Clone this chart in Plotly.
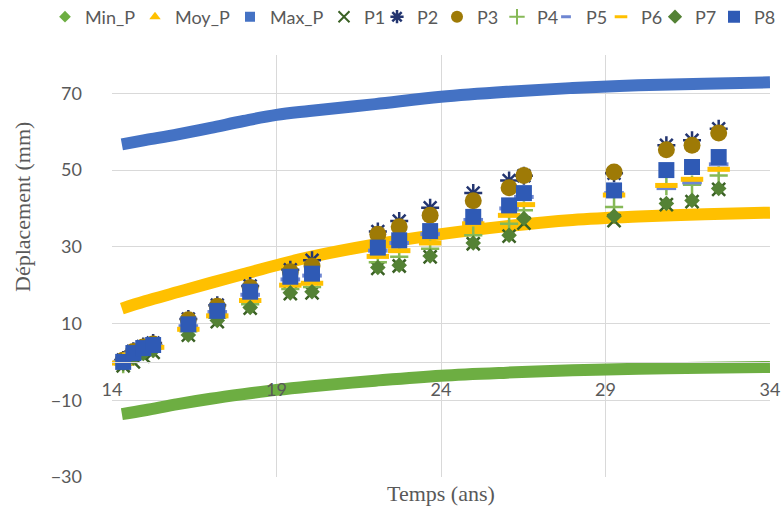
import plotly.graph_objects as go

# ---- envelope curves ----
curve_t = [14.3, 15, 16, 17, 18, 19, 20, 22, 24, 26, 28, 30, 32, 34]
min_p = [-13.6, -12.6, -11.0, -9.6, -8.4, -7.3, -6.4, -4.9, -3.6, -2.8, -2.2, -1.8, -1.5, -1.3]
moy_p = [13.9, 15.8, 18.2, 20.6, 22.9, 25.2, 27.3, 30.6, 33.3, 35.4, 37.0, 37.9, 38.5, 38.9]
max_p = [56.7, 57.8, 59.3, 61.0, 62.8, 64.4, 65.4, 67.2, 69.1, 70.4, 71.4, 72.1, 72.5, 72.9]

# ---- measurement points ----
t = [14.34, 14.65, 14.95, 15.25, 16.32, 17.2, 18.2, 19.42, 20.08, 22.08, 22.73,
     23.67, 24.98, 26.07, 26.52, 29.26, 30.85, 31.63, 32.44]
p1 = [-1.0, 0.0, 1.5, 2.5, 7.0, 10.5, 14.0, 17.8, 18.0, 24.4, 25.0, 27.4, 30.8, 32.8, 36.2, 36.8, 41.0, 41.8, 45.0]
p2 = [0.5, 2.8, 4.0, 4.9, 11.2, 14.8, 19.8, 24.0, 26.5, 34.0, 36.7, 40.2, 44.0, 47.3, 48.5, 49.2, 56.5, 57.8, 60.8]
p3 = [0.4, 2.7, 3.9, 4.7, 11.0, 14.5, 19.4, 23.5, 25.0, 33.3, 35.2, 38.2, 42.0, 45.4, 48.6, 49.5, 55.3, 56.5, 59.7]
p4 = [-0.6, 1.4, 2.8, 3.5, 8.0, 11.5, 15.0, 19.0, 19.5, 26.0, 27.4, 29.5, 33.0, 36.0, 39.5, 40.4, 45.8, 46.2, 48.6]
p5 = [0.0, 2.0, 3.3, 4.1, 9.3, 13.0, 17.5, 21.5, 22.5, 29.0, 31.0, 33.3, 37.0, 40.0, 43.0, 44.0, 45.3, 46.8, 51.5]
p6 = [-0.3, 1.8, 3.0, 3.8, 8.5, 12.0, 16.0, 20.0, 20.5, 27.5, 29.0, 31.0, 36.0, 38.2, 41.0, 43.5, 46.0, 47.6, 50.2]
p7 = [-0.5, 1.0, 2.2, 3.0, 7.0, 10.8, 14.2, 18.0, 18.3, 24.6, 25.2, 27.6, 31.0, 33.0, 37.4, 38.0, 41.3, 42.1, 45.2]
p8 = [0.0, 2.3, 3.6, 4.4, 9.8, 13.3, 18.3, 22.2, 23.0, 29.8, 31.7, 34.1, 37.8, 40.8, 44.0, 44.7, 50.0, 50.8, 53.4]

x_ticks = [14, 19, 24, 29, 34]
y_ticks = [-30, -10, 10, 30, 50, 70]
x_range = [14, 34]
y_range = [-30, 80]

GRID = "#D9D9D9"
TXT = "#595959"
SANS = "Lato, 'Open Sans', sans-serif"
SERIF = "'Liberation Serif', 'DejaVu Serif', serif"

W, H = 781, 507
ML, MR, MT, MB = 112, 11, 55, 30
PW, PH = W - ML - MR, H - MT - MB

fig = go.Figure()

curves = [
    ("Min_P", min_p, "#6DAE42", "diamond", 9),
    ("Moy_P", moy_p, "#FFC000", "triangle-up", 10),
    ("Max_P", max_p, "#4472C4", "square", 10),
]
for name, vals, col, sym, lsz in curves:
    fig.add_trace(go.Scatter(x=curve_t, y=vals, mode="lines", name=name,
                             line=dict(color=col, width=12, shape="spline"),
                             legendgroup=name, showlegend=False))

points = [
    ("P1", p1, "#3B6125", "x-thin-open", 13, 2.5, 11, 2),
    ("P2", p2, "#233570", "asterisk-open", 15, 2.5, 11, 2.5),
    ("P3", p3, "#9E7A06", "circle", 17, 0, 12, 0),
    ("P4", p4, "#86B957", "cross-thin-open", 13, 2.5, 11, 2),
    ("P5", p5, "#6E86D2", "line-ew-open", 14, 4, 7, 3),
    ("P6", p6, "#FFC000", "line-ew-open", 16, 5, 9, 3),
    ("P7", p7, "#548235", "diamond", 12, 0, 11, 0),
    ("P8", p8, "#2F5AB5", "square", 16, 0, 12, 0),
]
for name, vals, col, sym, sz, lw, lsz, llw in points:
    mk = dict(symbol=sym, size=sz, color=col)
    if lw:
        mk["line"] = dict(color=col, width=lw)
    fig.add_trace(go.Scatter(x=t, y=vals, mode="markers", name=name, marker=mk,
                             legendgroup=name, showlegend=False))

# legend-only entries (legend symbol sizes as in the reference);
# split over two legend boxes so the row fits the figure width
legend_widths = [45, 50, 49, 8, 15, 15, 23, 10, 9, 14, 22]
legend_ids = ["legend"] * 7 + ["legend2"] * 4
entries = [(c[0], c[2], c[3], c[4], 0) for c in curves] + \
          [(p[0], p[2], p[3], p[6], p[7]) for p in points]
for (name, col, sym, lsz, llw), lwid, lid in zip(entries, legend_widths, legend_ids):
    mk = dict(symbol=sym, size=lsz, color=col)
    if llw:
        mk["line"] = dict(color=col, width=llw)
    fig.add_trace(go.Scatter(x=[None], y=[None], mode="markers", name=name,
                             marker=mk, legendgroup=name, legendwidth=lwid,
                             legend=lid))

zero_pos = (0 - y_range[0]) / (y_range[1] - y_range[0])
leg_y = (H - MB - 17) / PH
leg_font = dict(family=SANS, size=18, color=TXT)

fig.update_layout(
    width=W, height=H,
    margin=dict(l=ML, r=MR, t=MT, b=MB, autoexpand=False),
    paper_bgcolor="white", plot_bgcolor="white",
    font=dict(family=SANS, size=18, color=TXT),
    showlegend=True,
    legend=dict(orientation="h", xref="paper", yref="paper",
                x=(45 - ML) / PW, y=leg_y, xanchor="left", yanchor="middle",
                font=leg_font, bgcolor="rgba(0,0,0,0)"),
    legend2=dict(orientation="h", xref="paper", yref="paper",
                 x=(W - ML) / PW, y=leg_y, xanchor="right", yanchor="middle",
                 font=leg_font, bgcolor="rgba(0,0,0,0)"),
    xaxis=dict(range=x_range, tickvals=x_ticks, showgrid=True, gridcolor=GRID,
               gridwidth=1, zeroline=False, anchor="free", position=zero_pos,
               showline=True, linecolor=GRID, linewidth=1, ticks="",
               ticklabelstandoff=11,
               tickfont=dict(family=SANS, size=18, color=TXT)),
    yaxis=dict(range=y_range, tickvals=y_ticks, showgrid=True, gridcolor=GRID,
               gridwidth=1, zeroline=False, ticks="", ticklabelstandoff=29,
               tickfont=dict(family=SANS, size=18, color=TXT)),
    annotations=[
        dict(text="Déplacement (mm)", xref="paper", yref="paper",
             x=(22 - ML) / PW, y=(H - MB - 207) / PH, textangle=-90,
             xanchor="center", yanchor="middle", showarrow=False,
             font=dict(family=SERIF, size=22, color=TXT)),
        dict(text="Temps (ans)", xref="paper", yref="paper",
             x=0.5, y=(H - MB - 493) / PH, xanchor="center", yanchor="middle",
             showarrow=False, font=dict(family=SERIF, size=22, color=TXT)),
    ],
)

fig.write_html("out.html", config={"displayModeBar": False},
               post_script="document.body.style.margin='0';document.body.style.padding='0';")
